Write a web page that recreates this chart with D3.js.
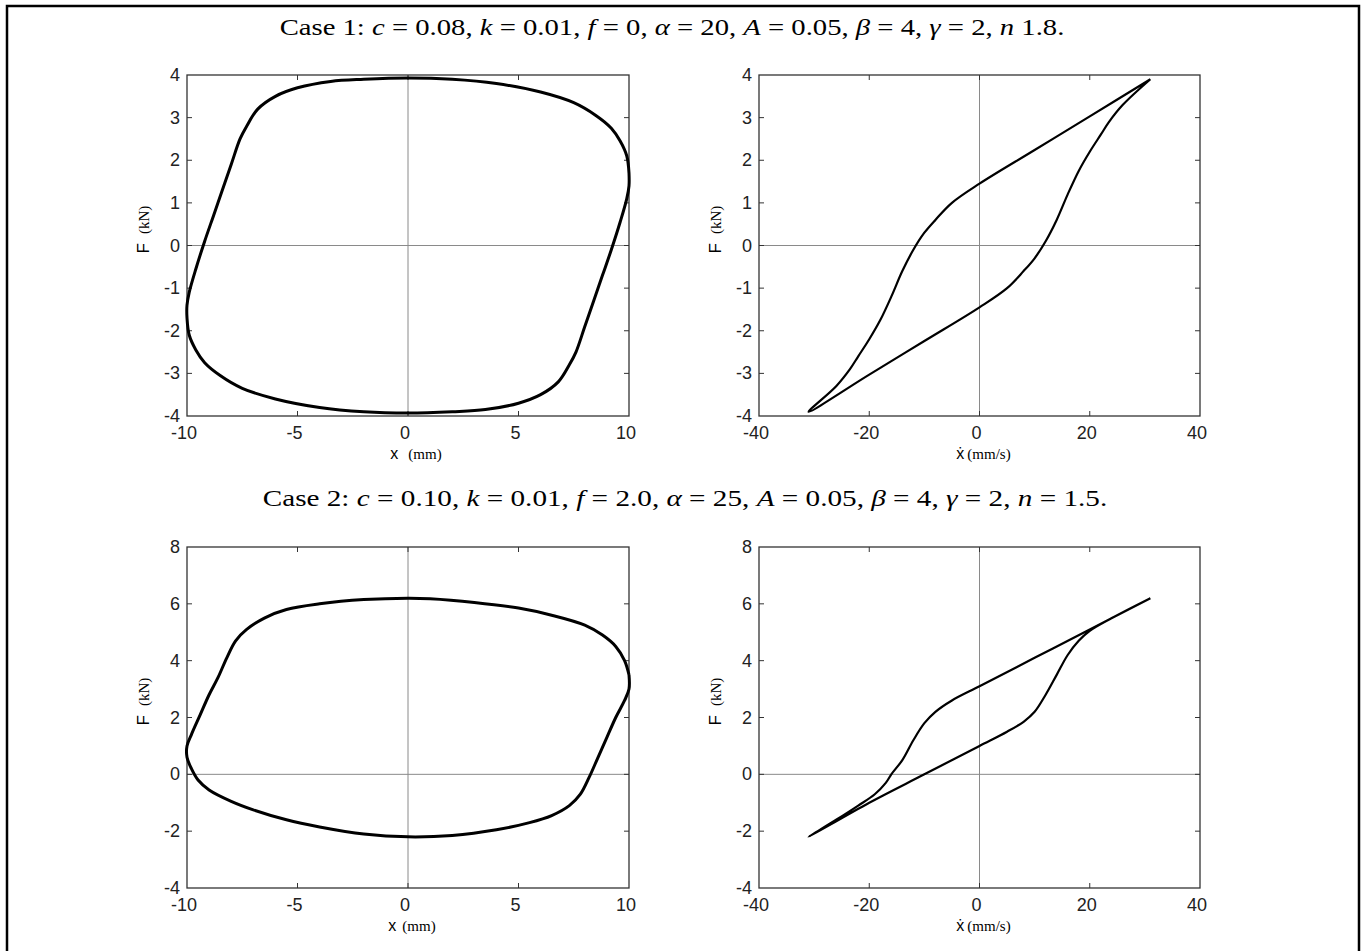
<!DOCTYPE html>
<html>
<head>
<meta charset="utf-8">
<script src="https://cdn.jsdelivr.net/npm/d3@7"></script>
<style>
  body { margin: 0; background: #fff; }
  svg { display: block; }
  .tick-label { font-family: "Liberation Sans", Arial, sans-serif; font-size: 18px; fill: #222; }
  .title { font-family: "Liberation Serif", "Times New Roman", serif; font-size: 24px; fill: #000; }
</style>
</head>
<body>
<svg id="chart" width="1367" height="951"></svg>
<script>
// case 1: force vs displacement, one closed loop [x (mm), F (kN)]
var case1Disp = [
  [10, 1.7], [9.9, 2.1], [9.6, 2.45], [9.2, 2.75], [8.5, 3.05], [7.5, 3.35], [6, 3.6],
  [4, 3.8], [2, 3.9], [0, 3.93], [-2, 3.9], [-3.5, 3.85], [-5, 3.7], [-6, 3.5],
  [-6.8, 3.2], [-7.3, 2.8], [-7.6, 2.5], [-8, 1.9], [-8.4, 1.3], [-8.8, 0.7],
  [-9.2, 0.1], [-9.6, -0.55], [-9.9, -1.1], [-10, -1.4], [-10, -1.7], [-9.9, -2.1],
  [-9.6, -2.45], [-9.2, -2.75], [-8.5, -3.05], [-7.5, -3.35], [-6, -3.6], [-4, -3.8],
  [-2, -3.9], [0, -3.93], [2, -3.9], [3.5, -3.85], [5, -3.7], [6, -3.5], [6.8, -3.2],
  [7.3, -2.8], [7.6, -2.5], [8, -1.9], [8.4, -1.3], [8.8, -0.7], [9.2, -0.1],
  [9.6, 0.55], [9.9, 1.1], [10, 1.4], [10, 1.7]
];
// case 1: force vs velocity [xdot (mm/s), F (kN)]
var case1Vel = [
  [31, 3.9], [20, 3.03], [10, 2.24], [0, 1.45], [-5, 1.0], [-8, 0.6], [-10, 0.3],
  [-12, -0.1], [-14, -0.6], [-16, -1.2], [-18, -1.75], [-20, -2.2], [-22, -2.6],
  [-23.5, -2.9], [-26, -3.3], [-31, -3.9], [-20, -3.03], [-10, -2.24], [0, -1.45],
  [5, -1.0], [8, -0.6], [10, -0.3], [12, 0.1], [14, 0.6], [16, 1.2], [18, 1.75],
  [20, 2.2], [22, 2.6], [23.5, 2.9], [26, 3.3], [31, 3.9]
];
// case 2: force vs displacement
var case2Disp = [
  [10, 3.5], [9.8, 4.0], [9.4, 4.5], [8.8, 4.9], [8, 5.25], [6.5, 5.6], [5, 5.85],
  [3, 6.05], [1, 6.18], [0, 6.2], [-2, 6.15], [-4, 6.0], [-5.5, 5.8], [-6.5, 5.5],
  [-7.3, 5.1], [-7.8, 4.7], [-8.2, 4.1], [-8.6, 3.4], [-9, 2.8], [-9.4, 2.1],
  [-9.8, 1.4], [-10, 1.0], [-10, 0.6], [-9.8, 0.2], [-9.5, -0.2], [-9, -0.55],
  [-8, -0.95], [-7, -1.25], [-5.5, -1.6], [-4, -1.85], [-2, -2.1], [0, -2.2],
  [2, -2.15], [4, -1.95], [5.5, -1.7], [6.5, -1.45], [7.3, -1.1], [7.8, -0.7],
  [8.2, -0.1], [8.6, 0.6], [9, 1.3], [9.4, 2.0], [9.8, 2.6], [10, 3.0], [10, 3.5]
];
// case 2: force vs velocity
var case2Vel = [
  [31, 6.2], [20, 5.1], [10, 4.1], [0, 3.1], [-5, 2.6], [-8, 2.2], [-10, 1.8],
  [-12, 1.2], [-14, 0.5], [-16, 0], [-17, -0.3], [-19, -0.7], [-22, -1.1],
  [-26, -1.6], [-31, -2.2], [-20, -1.0], [-10, 0.0], [0, 1.0], [5, 1.5], [8, 1.85],
  [10, 2.2], [12, 2.8], [14, 3.5], [16, 4.2], [18, 4.7], [20, 5.05], [24, 5.5],
  [31, 6.2]
];

var dispTicks = [-10, -5, 0, 5, 10];
var velTicks = [-40, -20, 0, 20, 40];
var case1FTicks = [-4, -3, -2, -1, 0, 1, 2, 3, 4];
var case2FTicks = [-4, -2, 0, 2, 4, 6, 8];

var EQ = '\u2005=\u2005';
var case1Title = [
  ['Case 1: ', false], ['c', true], [EQ + '0.08, ', false], ['k', true], [EQ + '0.01, ', false],
  ['f', true], [EQ + '0, ', false], ['α', true], [EQ + '20, ', false], ['A', true],
  [EQ + '0.05, ', false], ['β', true], [EQ + '4, ', false], ['γ', true], [EQ + '2, ', false],
  ['n', true], [' 1.8.', false]
];
var case2Title = [
  ['Case 2: ', false], ['c', true], [EQ + '0.10, ', false], ['k', true], [EQ + '0.01, ', false],
  ['f', true], [EQ + '2.0, ', false], ['α', true], [EQ + '25, ', false], ['A', true],
  [EQ + '0.05, ', false], ['β', true], [EQ + '4, ', false], ['γ', true], [EQ + '2, ', false],
  ['n', true], [EQ + '1.5.', false]
];

var svg = d3.select('#chart');

// outer frame, open at the bottom
svg.append('path')
  .attr('d', 'M7,951 V6 H1359 V951')
  .attr('fill', 'none')
  .attr('stroke', '#000')
  .attr('stroke-width', 2.5);

// title is stretched sideways to the width it has in the figure
function drawTitle(parts, cx, y, w) {
  var g = svg.append('g');
  var t = g.append('text').attr('class', 'title').attr('x', 0).attr('y', 0)
    .attr('text-anchor', 'middle');
  t.selectAll('tspan').data(parts).enter().append('tspan')
    .style('font-style', function (d) { return d[1] ? 'italic' : 'normal'; })
    .style('white-space', 'pre')
    .text(function (d) { return d[0]; });
  var natural = t.node().getComputedTextLength();
  g.attr('transform', 'translate(' + cx + ',' + y + ') scale(' + (w / natural) + ',1)');
}

function drawPanel(opts) {
  var x = d3.scaleLinear().domain(opts.xDomain).range([opts.left, opts.right]);
  var y = d3.scaleLinear().domain(opts.yDomain).range([opts.bottom, opts.top]);
  var g = svg.append('g');

  // zero lines
  g.append('line').attr('x1', x(0)).attr('x2', x(0)).attr('y1', opts.top).attr('y2', opts.bottom)
    .attr('stroke', '#8a8a8a').attr('stroke-width', 1);
  g.append('line').attr('x1', opts.left).attr('x2', opts.right).attr('y1', y(0)).attr('y2', y(0))
    .attr('stroke', '#8a8a8a').attr('stroke-width', 1);

  // inward ticks on all four sides
  var tl = 5;
  var xt = opts.xTicks.slice(1, -1);
  var yt = opts.yTicks.slice(1, -1);
  xt.forEach(function (v) {
    g.append('line').attr('x1', x(v)).attr('x2', x(v)).attr('y1', opts.bottom).attr('y2', opts.bottom - tl)
      .attr('stroke', '#333');
    g.append('line').attr('x1', x(v)).attr('x2', x(v)).attr('y1', opts.top).attr('y2', opts.top + tl)
      .attr('stroke', '#333');
  });
  yt.forEach(function (v) {
    g.append('line').attr('y1', y(v)).attr('y2', y(v)).attr('x1', opts.left).attr('x2', opts.left + tl)
      .attr('stroke', '#333');
    g.append('line').attr('y1', y(v)).attr('y2', y(v)).attr('x1', opts.right).attr('x2', opts.right - tl)
      .attr('stroke', '#333');
  });

  g.append('rect')
    .attr('x', opts.left).attr('y', opts.top)
    .attr('width', opts.right - opts.left).attr('height', opts.bottom - opts.top)
    .attr('fill', 'none').attr('stroke', '#333').attr('stroke-width', 1.3);

  // tick labels
  g.selectAll('.xl').data(opts.xTicks).enter().append('text')
    .attr('class', 'tick-label')
    .attr('x', function (d) { return x(d) - 3; })
    .attr('y', opts.bottom + 23)
    .attr('text-anchor', 'middle')
    .text(function (d) { return d; });
  g.selectAll('.yl').data(opts.yTicks).enter().append('text')
    .attr('class', 'tick-label')
    .attr('x', opts.left - 7)
    .attr('y', function (d) { return y(d) + 6; })
    .attr('text-anchor', 'end')
    .text(function (d) { return d; });

  // the loop
  var line = d3.line().x(function (d) { return x(d[0]); }).y(function (d) { return y(d[1]); })
    .curve(d3.curveCatmullRom.alpha(0.5));
  g.append('path').datum(opts.data)
    .attr('d', line)
    .attr('fill', 'none')
    .attr('stroke', '#000')
    .attr('stroke-width', opts.width || 2.5)
    .attr('stroke-linejoin', 'round');

  // axis labels
  var cy = (opts.top + opts.bottom) / 2;
  var yl = g.append('text')
    .attr('transform', 'translate(' + (opts.left - 38) + ',' + (cy + 8) + ') rotate(-90)')
    .attr('text-anchor', 'start');
  yl.append('tspan').style('font-family', 'Liberation Sans, Arial, sans-serif').style('font-size', '17px')
    .text('F');
  yl.append('tspan').attr('dx', 9).style('font-family', 'Liberation Serif, serif').style('font-size', '15px')
    .text('(kN)');

  var xlab = g.append('text')
    .attr('x', x(0) + opts.xLabelShift)
    .attr('y', opts.bottom + 43)
    .attr('text-anchor', 'middle');
  xlab.append('tspan').style('font-family', 'Liberation Sans, Arial, sans-serif').style('font-size', '16px')
    .text(opts.xName);
  xlab.append('tspan').attr('dx', opts.xGap).style('font-family', 'Liberation Serif, serif').style('font-size', '15px')
    .text(opts.xUnit);
}

drawTitle(case1Title, 672, 35, 785);
drawTitle(case2Title, 685, 506, 845);

drawPanel({ left: 187, right: 629, top: 75, bottom: 416, xDomain: [-10, 10], yDomain: [-4, 4],
  xTicks: dispTicks, yTicks: case1FTicks, data: case1Disp, xName: 'x', xUnit: '(mm)',
  xGap: 10, xLabelShift: 8, width: 3 });
drawPanel({ left: 759, right: 1200, top: 75, bottom: 416, xDomain: [-40, 40], yDomain: [-4, 4],
  xTicks: velTicks, yTicks: case1FTicks, data: case1Vel, xName: 'ẋ', xUnit: '(mm/s)',
  xGap: 3, xLabelShift: 4, width: 2.2 });
drawPanel({ left: 187, right: 629, top: 547, bottom: 888, xDomain: [-10, 10], yDomain: [-4, 8],
  xTicks: dispTicks, yTicks: case2FTicks, data: case2Disp, xName: 'x', xUnit: '(mm)',
  xGap: 6, xLabelShift: 4, width: 3 });
drawPanel({ left: 759, right: 1200, top: 547, bottom: 888, xDomain: [-40, 40], yDomain: [-4, 8],
  xTicks: velTicks, yTicks: case2FTicks, data: case2Vel, xName: 'ẋ', xUnit: '(mm/s)',
  xGap: 3, xLabelShift: 4, width: 2.2 });
</script>
</body>
</html>
